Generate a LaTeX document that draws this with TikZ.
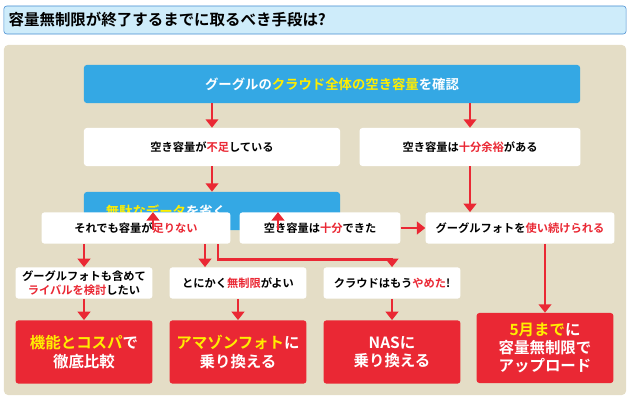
\documentclass[tikz,border=0pt]{standalone}
\usepackage{fontspec}
\setmainfont{Noto Sans CJK JP}[BoldFont={* Bold}]
\usetikzlibrary{arrows.meta,positioning}
\definecolor{skyblue}{RGB}{52,168,228}
\definecolor{titlebg}{RGB}{206,236,250}
\definecolor{titleline}{RGB}{70,140,210}
\definecolor{panelbg}{RGB}{228,221,198}
\definecolor{alertred}{RGB}{234,40,52}
\definecolor{hiyellow}{RGB}{255,238,0}
\newcommand{\hr}[1]{\textcolor{alertred}{#1}}
\newcommand{\hy}[1]{\textcolor{hiyellow}{#1}}

\begin{document}
\begin{tikzpicture}[x=0.025cm, y=-0.025cm,
  box/.style={rectangle, fill=white, rounded corners=2pt, minimum height=0.95cm, align=center, font=\bfseries\fontsize{8}{10}\selectfont, inner sep=1pt},
  check/.style={rectangle, fill=skyblue, rounded corners=2pt, minimum height=0.95cm, text=white, font=\bfseries\fontsize{9.5}{11}\selectfont},
  goal/.style={rectangle, fill=alertred, rounded corners=2pt, minimum width=3.42cm, text=white, align=center, font=\bfseries\fontsize{11}{13}\selectfont},
  arrow/.style={-{Triangle[length=6pt,width=9pt]}, alertred, line width=2pt}
]
  \useasboundingbox (0,0) rectangle (630,401);
  \node[rectangle, draw=titleline, fill=titlebg, rounded corners=2pt, minimum width=15.55cm, minimum height=0.7cm] (title) at (315,20) {};
  \node[anchor=west, font=\bfseries\fontsize{11}{13}\selectfont] (titletext) at (title.west) {容量無制限が終了するまでに取るべき手段は?};
  \node[rectangle, fill=panelbg, rounded corners=3pt, minimum width=15.55cm, minimum height=8.75cm] (panel) at (315,220) {};

  \node[check, minimum width=12.4cm] (cloud) at (332,84) {グーグルの\hy{クラウド全体の空き容量}を確認};
  \node[box, minimum width=6.4cm] (short) at (212,147) {空き容量が\hr{不足}している};
  \node[box, minimum width=5.52cm] (enough) at (470,147) {空き容量は\hr{十分余裕}がある};
  \node[check, minimum width=6.4cm] (trim) at (212,211) {\hspace*{-2.3cm}\hy{無駄なデータ}を省く};

  \node[box, minimum width=4.72cm, minimum height=0.78cm] (still) at (136,228) {それでも容量が\hr{足りない}};
  \node[box, minimum width=4.02cm, minimum height=0.78cm] (freed) at (320,228) {空き容量は\hr{十分}できた};
  \node[box, minimum width=4.72cm, minimum height=0.78cm] (keep) at (520,228) {グーグルフォトを\hr{使い続けられる}};

  \node[box, minimum width=3.42cm, minimum height=0.78cm] (rival) at (84,283) {グーグルフォトも含めて\\\hr{ライバルを検討}したい};
  \node[box, minimum width=3.42cm, minimum height=0.78cm] (unlim) at (238,283) {とにかく\hr{無制限}がよい};
  \node[box, minimum width=3.42cm, minimum height=0.78cm] (quit) at (392,283) {クラウドはもう\hr{やめた}!};

  \node[goal, minimum height=1.58cm] (compare) at (84,352) {\hy{機能とコスパ}で\\徹底比較};
  \node[goal, minimum height=1.58cm] (amazon) at (238,352) {\hy{アマゾンフォト}に\\乗り換える};
  \node[goal, minimum height=1.58cm] (nas) at (392,352) {NASに\\乗り換える};
  \node[goal, minimum height=1.75cm] (upload) at (545,348) {\hy{5月まで}に\\容量無制限で\\アップロード};

  \coordinate (trimL) at (153,230);
  \coordinate (trimR) at (278,230);
  \coordinate (stillM) at (205,244);
  \coordinate (stillR) at (218,244);

  \draw[arrow] (short.north |- cloud.south) -- (short);
  \draw[arrow] (enough.north |- cloud.south) -- (enough);
  \draw[arrow] (short) -- (trim);
  \draw[arrow] (trimL) -- (trimL |- still.north);
  \draw[arrow] (trimR) -- (trimR |- freed.north);
  \draw[arrow] (enough) -- (keep.north -| enough);
  \draw[arrow] (freed) -- (keep);
  \draw[arrow] (rival.north |- still.south) -- (rival);
  \draw[arrow] (stillM) -- (stillM |- unlim.north);
  \draw[arrow] (stillR) |- ([yshift=0.2cm]quit.north) -- (quit);
  \draw[arrow] (upload.north |- keep.south) -- (upload);
  \draw[arrow] (rival) -- (compare);
  \draw[arrow] (unlim) -- (amazon);
  \draw[arrow] (quit) -- (nas);
\end{tikzpicture}
\end{document}
